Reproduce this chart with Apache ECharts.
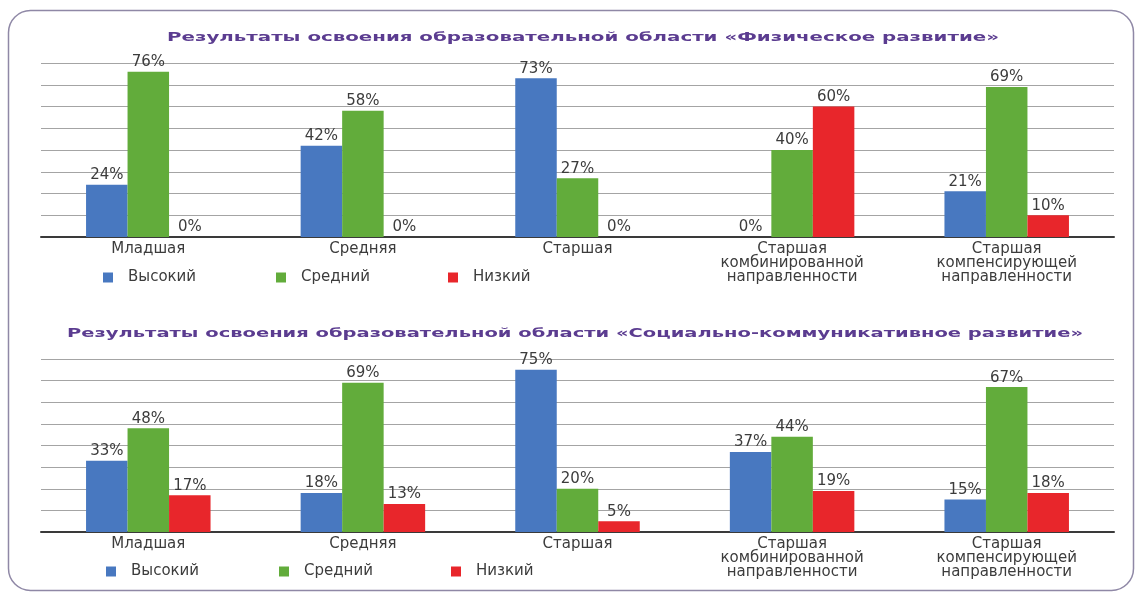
<!DOCTYPE html>
<html>
<head>
<meta charset="utf-8">
<script src="https://cdn.jsdelivr.net/npm/echarts@6/dist/echarts.min.js"></script>
<style>
html,body{margin:0;padding:0;background:#fff;}
#chart{width:1136px;height:594px;}
</style>
</head>
<body>
<div id="chart"></div>
<script>
const categories = ['Младшая', 'Средняя', 'Старшая', 'Старшая\nкомбинированной\nнаправленности', 'Старшая\nкомпенсирующей\nнаправленности'];
const seriesNames = ['Высокий', 'Средний', 'Низкий'];
const physHigh = [24, 42, 73, 0, 21];
const physMid  = [76, 58, 27, 40, 69];
const physLow  = [0, 0, 0, 60, 10];
const socHigh  = [33, 18, 75, 37, 15];
const socMid   = [48, 69, 20, 44, 67];
const socLow   = [17, 13, 5, 19, 18];
const title1 = 'Результаты освоения образовательной области «Физическое развитие»';
const title2 = 'Результаты освоения образовательной области «Социально-коммуникативное развитие»';

const colors = ['#4878c0', '#62ac3b', '#e8262b'];
const textColor = '#3c3c3c';
const titleFont = 'bold 13px "DejaVu Sans"';

function fitScale(text, target) {
  const ctx = document.createElement('canvas').getContext('2d');
  ctx.font = titleFont;
  return target / ctx.measureText(text).width;
}

const grids = [
  {left: 41, width: 1073, top: 63, height: 174},
  {left: 41, width: 1073, top: 359, height: 173}
];

function xAxis(i) {
  return {
    type: 'category', gridIndex: i, data: categories,
    axisTick: {show: false},
    axisLine: {lineStyle: {color: '#3a3a3a', width: 2}},
    axisLabel: {color: textColor, fontSize: 15, lineHeight: 14, margin: 5, fontFamily: 'DejaVu Sans', interval: 0}
  };
}
function yAxis(i) {
  return {
    type: 'value', gridIndex: i, min: 0, max: 80, interval: 10,
    axisLabel: {show: false}, axisLine: {show: false}, axisTick: {show: false},
    splitLine: {lineStyle: {color: '#a4a4a4', width: 1.2}}
  };
}
function bar(name, data, idx, color) {
  return {
    type: 'bar', name: name, data: data, xAxisIndex: idx, yAxisIndex: idx,
    barWidth: 41.5, barGap: '0%',
    itemStyle: {color: color},
    label: {show: true, position: 'top', distance: 2, formatter: '{c}%', color: textColor, fontSize: 15, fontFamily: 'DejaVu Sans'}
  };
}

const series = [];
[[physHigh, physMid, physLow], [socHigh, socMid, socLow]].forEach((set, gi) => {
  set.forEach((d, si) => series.push(bar(seriesNames[si], d, gi, colors[si])));
});

const legendLefts = [[103, 276, 448], [106, 279, 451]];
const legendTops = [270, 564];
const legends = [];
legendLefts.forEach((row, gi) => {
  row.forEach((left, si) => {
    legends.push({
      data: [seriesNames[si]], left: left, top: legendTops[gi], padding: 0,
      icon: 'rect', itemWidth: 10, itemHeight: 10, selectedMode: false,
      textStyle: {color: textColor, fontSize: 15, fontFamily: 'DejaVu Sans', padding: [0, 0, 0, 10]}
    });
  });
});

const chart = echarts.init(document.getElementById('chart'));
chart.setOption({
  animation: false,
  backgroundColor: '#ffffff',
  grid: grids,
  xAxis: [xAxis(0), xAxis(1)],
  yAxis: [yAxis(0), yAxis(1)],
  legend: legends,
  series: series,
  graphic: [
    {type: 'rect', z: -10, shape: {x: 8.5, y: 10.5, width: 1125, height: 580, r: 22},
     style: {fill: 'none', stroke: '#8f88a6', lineWidth: 1.5}},
    {type: 'text', x: 583, y: 37.5, scaleX: fitScale(title1, 832),
     style: {text: title1, font: titleFont, fill: '#5b3c90', align: 'center', verticalAlign: 'middle'}},
    {type: 'text', x: 575, y: 333.5, scaleX: fitScale(title2, 1016),
     style: {text: title2, font: titleFont, fill: '#5b3c90', align: 'center', verticalAlign: 'middle'}}
  ]
});
</script>
</body>
</html>
